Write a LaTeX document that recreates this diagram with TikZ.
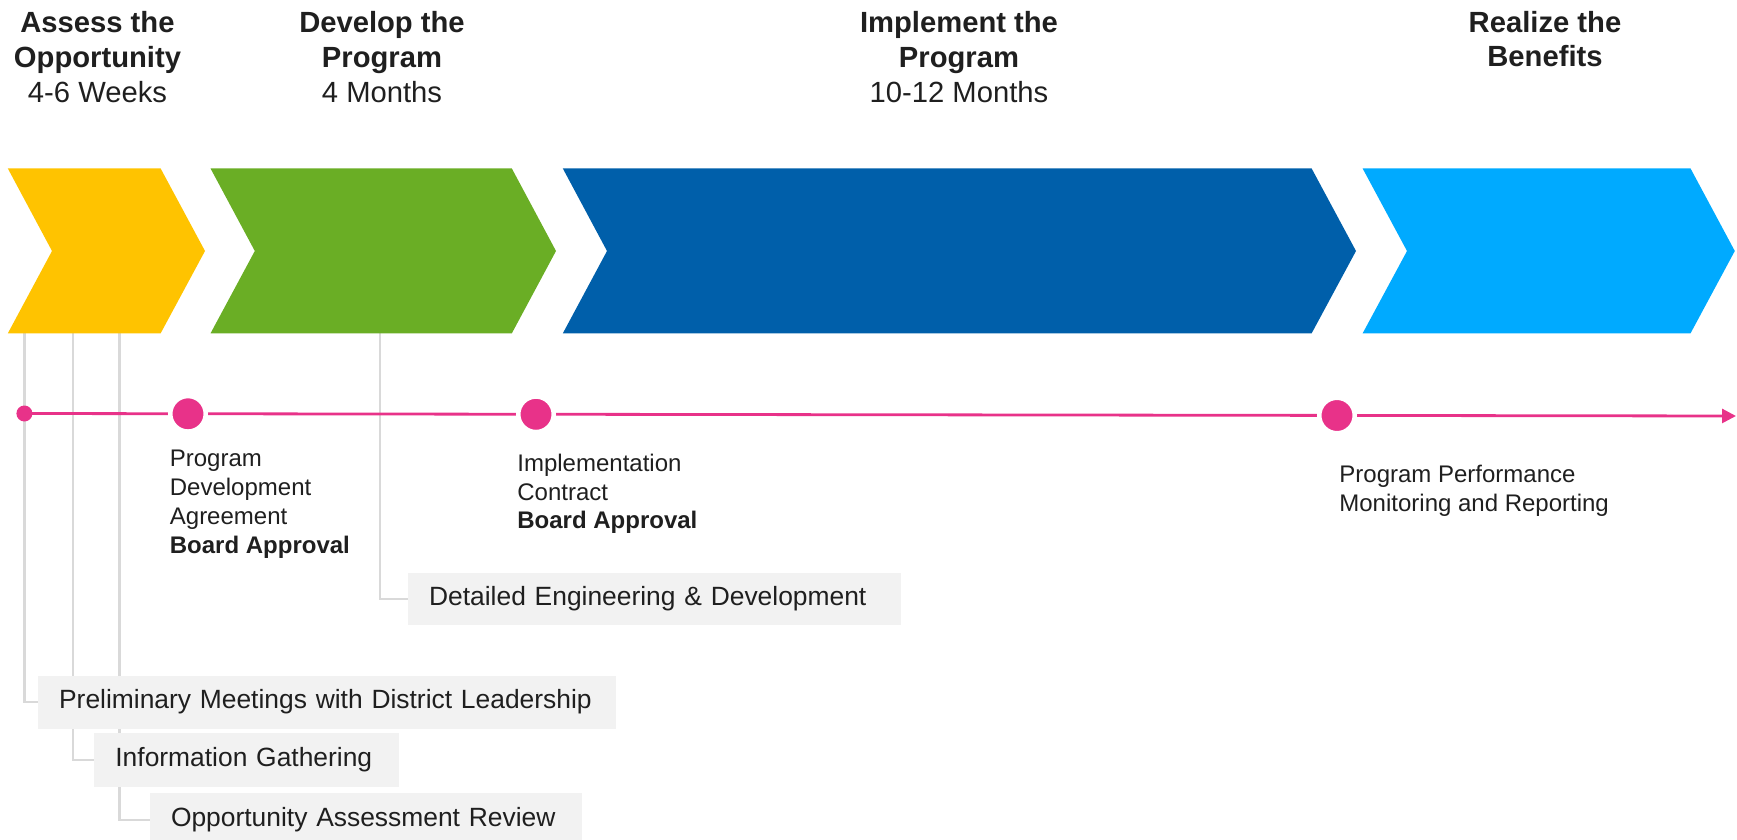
\documentclass[tikz,border=0pt]{standalone}
\usepackage{fontspec}
\setmainfont{Liberation Sans}
\usetikzlibrary{arrows.meta,backgrounds}
\definecolor{cyellow}{HTML}{FFC300}
\definecolor{cgreen}{HTML}{6AAE25}
\definecolor{cblue}{HTML}{005FAA}
\definecolor{clight}{HTML}{00AAFF}
\definecolor{cpink}{HTML}{E83289}
\definecolor{boxgray}{HTML}{F2F2F2}
\definecolor{linegray}{HTML}{D9D9D9}
\definecolor{txt}{HTML}{1F1F1F}
\tikzset{
  header/.style={align=center, text=txt, inner sep=0pt, font=\fontsize{14.6pt}{17.3pt}\selectfont},
  mstext/.style={align=left, text=txt, inner sep=0pt, anchor=north west, font=\fontsize{12pt}{14.4pt}\selectfont},
  taskbox/.style={fill=boxgray, anchor=west, inner xsep=10.5pt, inner ysep=0pt, align=left, text=txt, font=\fontsize{13.2pt}{15.8pt}\selectfont},
  conn/.style={draw=linegray, line width=1.2pt},
  bigdot/.style={circle, fill=cpink, draw=white, line width=2.25pt, minimum size=17.75pt, inner sep=0pt},
  smalldot/.style={circle, fill=cpink, inner sep=0pt, minimum size=8pt},
  tline/.style={draw=cpink, line width=1.4pt, -{Triangle[length=7pt,width=7pt]}}
}
\begin{document}
\begin{tikzpicture}[x=0.5pt,y=-0.5pt]
\useasboundingbox (0,0) rectangle (1737,840);
\clip (0,0) rectangle (1737,840);
% chevrons
\fill[cyellow] (7.8,168.4) -- (160.6,168.4) -- (205,251) -- (160.6,333.4) -- (7.8,333.4) -- (52,251) -- cycle;
\fill[cgreen] (210.5,168.4) -- (511.8,168.4) -- (556,251) -- (511.8,333.4) -- (210.5,333.4) -- (254.8,251) -- cycle;
\fill[cblue] (562.8,168.4) -- (1311.6,168.4) -- (1356,251) -- (1311.6,333.4) -- (562.8,333.4) -- (607,251) -- cycle;
\fill[clight] (1362.6,168.4) -- (1690.5,168.4) -- (1734.8,251) -- (1690.5,333.4) -- (1362.6,333.4) -- (1407,251) -- cycle;
% headers
\node[header] (h1) at (97.5,57) {\textbf{Assess the}\\\textbf{Opportunity}\\4-6 Weeks};
\node[header] (h2) at (382,57) {\textbf{Develop the}\\\textbf{Program}\\4 Months};
\node[header] (h3) at (959,57) {\textbf{Implement the}\\\textbf{Program}\\10-12 Months};
\node[header] (h4) at (1545,39) {\textbf{Realize the}\\\textbf{Benefits}};
% connector starts
\coordinate (c1) at (24.4,333.4);
\coordinate (c2) at (73,333.4);
\coordinate (c3) at (119.6,333.4);
\coordinate (c4) at (380,333.4);
% task boxes
\node[taskbox, text width=225.5pt, minimum height=26pt] (detail) at (407.7,598.7) {Detailed Engineering \& Development};
\node[taskbox, text width=268pt, minimum height=26.5pt] (prelim) at (37.7,702) {Preliminary Meetings with District Leadership};
\node[taskbox, text width=131.5pt, minimum height=27pt] (info) at (94,760) {Information Gathering};
\node[taskbox, text width=195pt, minimum height=27.5pt] (opp) at (149.6,820) {Opportunity Assessment Review};
\begin{scope}[on background layer]
\draw[conn] (c1) |- (prelim.west);
\draw[conn] (c2) |- (info.west);
\draw[conn] (c3) |- (opp.west);
\draw[conn] (c4) |- (detail.west);
\end{scope}
% timeline
\coordinate (tstart) at (24.4,413.5);
\coordinate (tend) at (1736,416);
\draw[tline] (tstart) -- (tend);
\node[smalldot] (m0) at (24.4,413.5) {};
\node[bigdot] (m1) at (188,413.8) {};
\node[bigdot] (m2) at (536,414.3) {};
\node[bigdot] (m3) at (1337,415.5) {};
% milestone texts
\node[mstext] (t1) at (169.5,450) {Program\\Development\\Agreement\\\textbf{Board Approval}};
\node[mstext] (t2) at (517,453.5) {Implementation\\Contract\\\textbf{Board Approval}};
\node[mstext] (t3) at (1339,464.5) {Program Performance\\Monitoring and Reporting};
\end{tikzpicture}
\end{document}
